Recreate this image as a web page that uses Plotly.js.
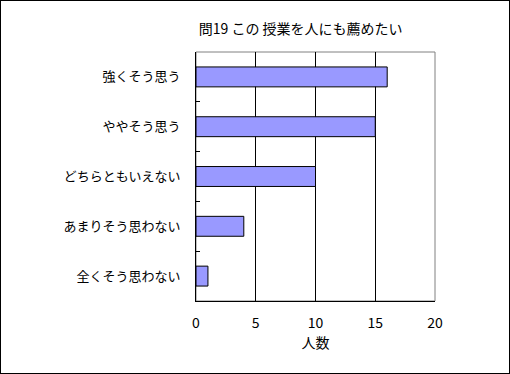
<!DOCTYPE html>
<html><head><meta charset="utf-8">
<script src="https://cdn.plot.ly/plotly-3.0.1.min.js"></script>
<style>
html,body{margin:0;padding:0;background:#fff;}
#c{width:510px;height:374px;box-sizing:border-box;border:1px solid #000;}
</style></head>
<body><div id="c"></div>
<script>
const categories = ["強くそう思う","ややそう思う","どちらともいえない","あまりそう思わない","全くそう思わない"];
const values = [16, 15, 10, 4, 1];
const xTicks = [0, 5, 10, 15, 20];
const chartTitle = "問19 この 授業を人にも薦めたい";
const xTitle = "人数";

const font = "'Noto Sans CJK JP', 'Noto Sans', sans-serif";
Plotly.newPlot('c', [{
  type: 'bar', orientation: 'h',
  y: categories, x: values,
  width: 0.4,
  marker: {color: '#9999FF', line: {color: '#000', width: 1}},
  hoverinfo: 'none'
}], {
  width: 508, height: 372,
  margin: {l: 195, r: 74, t: 51, b: 72},
  paper_bgcolor: '#fff', plot_bgcolor: '#fff',
  font: {family: font, size: 13, color: '#000'},
  showlegend: false,
  title: {text: chartTitle, font: {family: font, size: 14, color: '#000'}, x: 0.59, xanchor: 'center', y: 0.925, yanchor: 'middle'},
  xaxis: {
    range: [0, 20], tickvals: xTicks, ticktext: xTicks.map(String),
    showgrid: true, gridcolor: '#000', gridwidth: 1,
    zeroline: false, showline: true, linecolor: '#000', linewidth: 1,
    ticks: '', ticklabelstandoff: 9,
    tickfont: {family: font, size: 14},
    title: {text: xTitle, font: {family: font, size: 14}, standoff: 6}
  },
  yaxis: {
    type: 'category', autorange: 'reversed',
    showgrid: false, zeroline: false, showline: true, linecolor: '#000', linewidth: 1,
    ticks: 'inside', tickson: 'boundaries', ticklen: 4, tickcolor: '#000',
    ticklabelstandoff: 12,
    tickfont: {family: font, size: 13}
  },
  shapes: [{type: 'rect', xref: 'paper', yref: 'paper', x0: 0, x1: 1, y0: 0, y1: 1,
    line: {color: '#808080', width: 1}, layer: 'below'}]
}, {staticPlot: true, displayModeBar: false});
</script></body></html>
